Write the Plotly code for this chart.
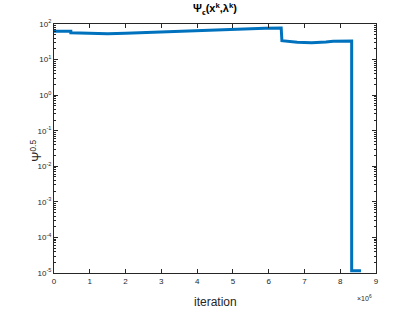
import plotly.graph_objects as go

iteration = [0, 0.47e6, 0.47e6, 1.0e6, 1.5e6, 2.0e6, 3.0e6, 4.0e6, 5.0e6, 5.9e6, 6.35e6,
             6.37e6, 6.8e6, 7.2e6, 7.6e6, 7.8e6, 8.32e6, 8.32e6, 8.58e6]
psi = [63, 63, 57, 54, 53.5, 55, 60, 66, 71, 76, 77,
       34, 30.5, 29.5, 31, 32.5, 33, 1.15e-5, 1.15e-5]

xticks = [i * 1e6 for i in range(10)]
xticklabels = [str(i) for i in range(10)]
yticks = [1e-5, 1e-4, 1e-3, 1e-2, 1e-1, 1, 10, 100]
yticklabels = ["10<sup>-5</sup>", "10<sup>-4</sup>", "10<sup>-3</sup>", "10<sup>-2</sup>",
               "10<sup>-1</sup>", "10<sup>0</sup>", "10<sup>1</sup>", "10<sup>2</sup>"]

fig = go.Figure()
fig.add_trace(go.Scatter(x=iteration, y=psi, mode="lines",
                         line=dict(color="#0072BD", width=3), showlegend=False))

axis_common = dict(showline=True, linecolor="#262626", linewidth=1, mirror="ticks",
                   ticks="inside", ticklen=4, tickcolor="#262626", showgrid=False,
                   zeroline=False, automargin=False,
                   tickfont=dict(family="Liberation Sans", size=8, color="#262626"))

fig.update_xaxes(range=[0, 9e6], tickmode="array", tickvals=xticks, ticktext=xticklabels,
                 **axis_common)
fig.update_yaxes(type="log", range=[-5, 2], tickmode="array", tickvals=yticks, ticktext=yticklabels,
                 minor=dict(ticks="inside", ticklen=2, tickcolor="#262626", showgrid=False,
                            tickmode="array",
                            tickvals=[m * 10 ** e for e in range(-5, 2) for m in range(2, 10)]),
                 **axis_common)

fig.add_annotation(text="iteration", xref="paper", yref="paper", x=0.5, y=-0.08,
                   xanchor="center", yanchor="top", showarrow=False,
                   font=dict(family="Liberation Sans", size=12, color="#262626"))
fig.add_annotation(text="Ψ<sup>0.5</sup>", xref="paper", yref="paper", x=-0.057, y=0.49,
                   xanchor="center", yanchor="middle", textangle=-90, showarrow=False,
                   font=dict(family="Liberation Sans", size=12, color="#262626"))
fig.add_annotation(text="×10<sup>6</sup>", xref="paper", yref="paper", x=0.995, y=-0.075,
                   xanchor="right", yanchor="top", showarrow=False,
                   font=dict(family="Liberation Sans", size=7, color="#262626"))

fig.update_layout(
    width=415, height=312,
    margin=dict(l=54, r=39, t=24, b=39),
    paper_bgcolor="white", plot_bgcolor="white",
    title=dict(text="<b>Ψ<sub>ϵ</sub>(x<sup>k</sup>,λ<sup>k</sup>)</b>", x=0.5, xref="paper",
               y=0.985, yanchor="top",
               font=dict(family="Liberation Sans", size=11, color="#000000")),
)

fig.write_html("out.html", config={"displayModeBar": False},
               post_script="document.body.style.margin='0';")
